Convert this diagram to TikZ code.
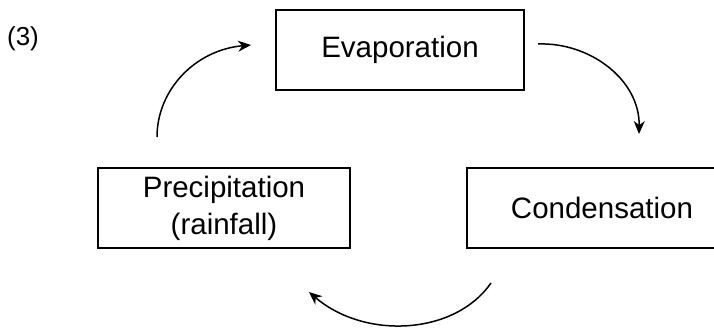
\documentclass[tikz,border=0pt]{standalone}
\usepackage{fontspec}
\setmainfont{Liberation Sans}
\usetikzlibrary{arrows.meta}
\begin{document}
\begin{tikzpicture}[x=1pt,y=-1pt,
  box/.style={draw=black,line width=1.6pt,minimum width=248pt,minimum height=80pt,inner sep=0pt,
    font=\fontsize{29.5}{37}\selectfont,align=center},
  cyc/.style={draw=black,line width=1.5pt,-{Stealth[length=13pt,width=11pt]}}]
\useasboundingbox (0,0) rectangle (714,329);
\clip (0,0) rectangle (714,329);
\fill[white] (0,0) rectangle (714,329);
\node[font=\fontsize{26}{30}\selectfont] (lbl) at (23,39) {(3)};
\node[box] (evap) at (400,50) {Evaporation};
\node[box,minimum width=270pt] (cond) at (602,208) {Condensation};
\node[box,minimum width=252pt] (prec) at (224,208) {Precipitation\\(rainfall)};
\coordinate (a1s) at (538,44);
\coordinate (a1e) at (639,134);
\coordinate (a2s) at (491,283);
\coordinate (a2e) at (309,292);
\coordinate (a3s) at (157,137);
\coordinate (a3e) at (251,45);
\draw[cyc] (a1s) .. controls (590,42) and (640,80) .. (a1e);
\draw[cyc] (a2s) .. controls (455,335) and (365,340) .. (a2e);
\draw[cyc] (a3s) .. controls (157,90) and (195,50) .. (a3e);
\end{tikzpicture}
\end{document}
